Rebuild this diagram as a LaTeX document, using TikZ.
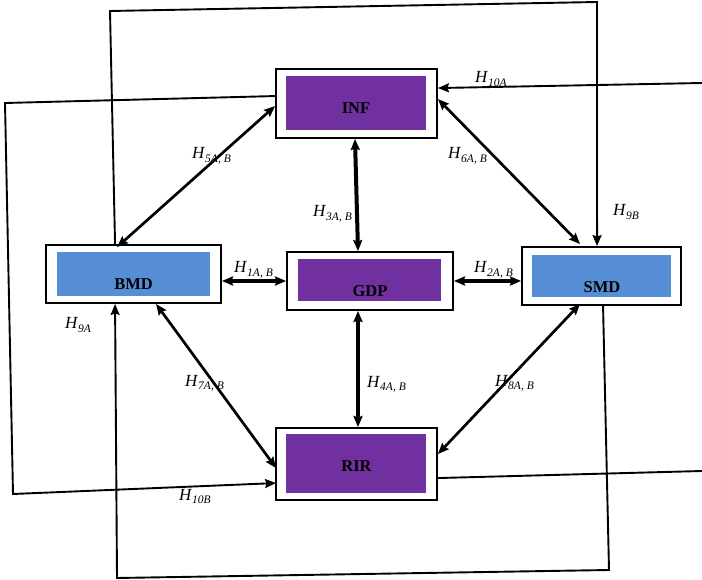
\documentclass[tikz,border=0pt]{standalone}
\usepackage{fontspec}
\setmainfont{Liberation Serif}
\usetikzlibrary{arrows.meta,calc}
\definecolor{vpurple}{HTML}{7030A0}
\definecolor{vblue}{HTML}{558ED5}
\newcommand{\hlab}[1]{\fontsize{17}{17}\selectfont\textit{H}\raisebox{-3.5pt}{\fontsize{11.5}{11.5}\selectfont\textit{#1}}}
\begin{document}
\begin{tikzpicture}[x=1pt,y=-1pt,
  outerbox/.style={draw,line width=1.9pt,fill=white,inner sep=0pt},
  innerbox/.style={inner sep=0pt},
  boxtext/.style={anchor=base,inner sep=0pt,font=\fontsize{16.5}{16.5}\selectfont\bfseries},
  hl/.style={anchor=base west,inner sep=0pt},
  dbl/.style={{Stealth[length=11pt,width=9pt,inset=1.5pt]}-{Stealth[length=11pt,width=9pt,inset=1.5pt]}},
  sgl/.style={-{Stealth[length=11pt,width=9pt,inset=1.5pt]}},
  thick3/.style={line width=4pt},
  diag/.style={line width=2.7pt},
  loop/.style={line width=1.9pt}]
\useasboundingbox (0,0) rectangle (702,580);

% boxes
\node[outerbox,minimum width=161pt,minimum height=69pt] (inf) at (356.5,103.5) {};
\node[innerbox,fill=vpurple,minimum width=140pt,minimum height=54pt] (infi) at (356,103) {};
\node[boxtext] (inft) at (356,114) {INF};

\node[outerbox,minimum width=175pt,minimum height=58pt] (bmd) at (133.5,274) {};
\node[innerbox,fill=vblue,minimum width=153pt,minimum height=44pt] (bmdi) at (133.5,274) {};
\node[boxtext] (bmdt) at (133.5,290) {BMD};

\node[outerbox,minimum width=166pt,minimum height=58pt] (gdp) at (370,281) {};
\node[innerbox,fill=vpurple,minimum width=143pt,minimum height=42pt] (gdpi) at (369.5,280) {};
\node[boxtext] (gdpt) at (370,297) {GDP};

\node[outerbox,minimum width=159pt,minimum height=58pt] (smd) at (601.5,276) {};
\node[innerbox,fill=vblue,minimum width=139pt,minimum height=42pt] (smdi) at (601.5,276) {};
\node[boxtext] (smdt) at (602,293) {SMD};

\node[outerbox,minimum width=161pt,minimum height=72pt] (rir) at (356.5,464) {};
\node[innerbox,fill=vpurple,minimum width=140pt,minimum height=59pt] (riri) at (356,463.5) {};
\node[boxtext] (rirt) at (356.5,471) {RIR};

% free ends / corners
\coordinate (r10a) at (702,83);
\coordinate (rrir) at (702,471);
\coordinate (tl) at (110,11);
\coordinate (tr) at (597,2);
\coordinate (lt) at (5,103);
\coordinate (lb) at (13,494);
\coordinate (br) at (609,570);
\coordinate (bl) at (117,578);

% thick straight arrows
\draw[thick3,dbl] ($(inf.south)+(-1.5,0)$) -- ($(gdp.north)+(-12,0)$);
\draw[thick3,dbl] ($(gdp.south)+(-12,0)$) -- ($(rir.north)+(1.5,0)$);
\draw[thick3,dbl] ($(bmd.east)+(0,7)$) -- ($(gdp.west)+(0,0)$);
\draw[thick3,dbl] ($(gdp.east)+(0,0)$) -- ($(smd.west)+(0,5)$);

% diagonal arrows
\draw[diag,dbl] ($(bmd.north west)+(72,3)$) -- ($(inf.north west)+(0,38)$);
\draw[diag,dbl] ($(inf.north east)+(0,31)$) -- ($(smd.north west)+(59,-2)$);
\draw[diag,dbl] ($(bmd.south west)+(111,0)$) -- ($(rir.north west)+(1,41)$);
\draw[diag,dbl] ($(smd.south west)+(59,-2)$) -- ($(rir.north east)+(0,27)$);

% loops
\draw[loop,sgl] (r10a) -- ($(inf.north east)+(0,20)$);
\draw[loop,sgl] ($(bmd.north west)+(70,0)$) -- (tl) -- (tr) -- ($(smd.north west)+(76,0)$);
\draw[loop,sgl] ($(inf.north west)+(0,28)$) -- (lt) -- (lb) -- ($(rir.north west)+(1,56)$);
\draw[loop,sgl] ($(smd.south west)+(82,0)$) -- (br) -- (bl) -- ($(bmd.south west)+(70,0)$);
\draw[loop] ($(rir.north east)+(0,51)$) -- (rrir);

% labels
\node[hl] (l10a) at (475,83) {\hlab{10A}};
\node[hl] (l6) at (448,159) {\hlab{6A, B}};
\node[hl] (l9b) at (613,216) {\hlab{9B}};
\node[hl] (l5) at (192,159) {\hlab{5A, B}};
\node[hl] (l3) at (313,217) {\hlab{3A, B}};
\node[hl] (l1) at (234,273) {\hlab{1A, B}};
\node[hl] (l2) at (474,273) {\hlab{2A, B}};
\node[hl] (l9a) at (65,329) {\hlab{9A}};
\node[hl] (l7) at (185,386) {\hlab{7A, B}};
\node[hl] (l4) at (367,387) {\hlab{4A, B}};
\node[hl] (l8) at (495,386) {\hlab{8A, B}};
\node[hl] (l10b) at (179,500) {\hlab{10B}};
\end{tikzpicture}
\end{document}
